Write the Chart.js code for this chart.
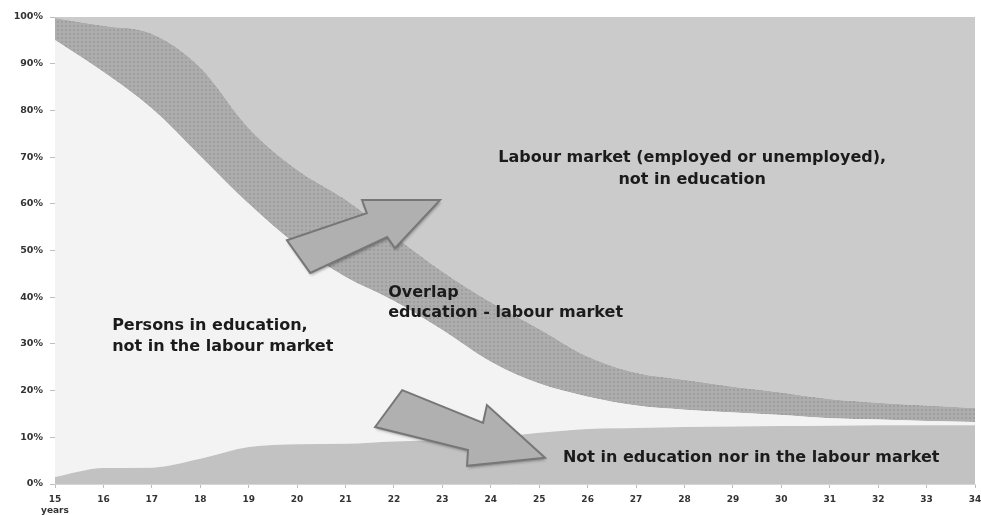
<!DOCTYPE html>
<html>
<head>
<meta charset="utf-8">
<script src="https://cdn.jsdelivr.net/npm/chart.js@4.4.1/dist/chart.umd.min.js"></script>
<style>
  html, body { margin: 0; padding: 0; background: #ffffff; }
  #wrap { width: 981px; height: 515px; }
</style>
</head>
<body>
<div id="wrap"><canvas id="eduChart" width="981" height="515"></canvas></div>
<script>
// ages 15..34, share of each group in percent
const ages = [15, 16, 17, 18, 19, 20, 21, 22, 23, 24, 25, 26, 27, 28, 29, 30, 31, 32, 33, 34];
const notEduNotLabour = [1.5, 3.4, 3.5, 5.4, 7.9, 8.5, 8.6, 9.1, 9.4, 10.0, 11.0, 11.8, 12.0, 12.2, 12.3, 12.4, 12.5, 12.6, 12.6, 12.6];
const eduOnly        = [93.6, 84.8, 76.9, 64.8, 52.1, 42.6, 35.7, 30.1, 23.6, 16.2, 10.5, 6.9, 4.8, 3.7, 3.0, 2.4, 1.6, 1.2, 0.9, 0.7];
const overlap        = [4.7, 9.9, 16.0, 19.0, 16.2, 16.2, 16.6, 13.9, 12.5, 12.7, 11.7, 8.6, 7.0, 6.4, 5.5, 4.8, 4.1, 3.6, 3.3, 3.0];
const labourOnly     = [0.2, 1.9, 3.6, 10.8, 23.8, 32.7, 39.1, 46.9, 54.5, 61.1, 66.8, 72.7, 76.2, 77.7, 79.2, 80.4, 81.8, 82.6, 83.2, 83.7];
const yTicks = [0, 10, 20, 30, 40, 50, 60, 70, 80, 90, 100];

// text labels inside the chart, placed in axis units (category index, percent)
const notes = [
  { lines: ['Labour market (employed or unemployed),', 'not in education'], i: 13.16, p: [69.8, 65.1], align: 'center' },
  { lines: ['Overlap', 'education - labour market'], i: 6.88, p: [40.9, 36.6], align: 'left' },
  { lines: ['Persons in education,', 'not in the labour market'], i: 1.18, p: [33.8, 29.3], align: 'left' },
  { lines: ['Not in education nor in the labour market'], i: 10.49, p: [5.6], align: 'left' }
];

// block arrows, outline points in axis units
const arrows = [
  [[4.79, 52.2], [6.44, 58.0], [6.34, 60.8], [7.95, 60.8], [7.02, 50.5], [6.86, 52.9], [5.27, 45.2]],
  [[7.17, 20.1], [8.84, 13.1], [8.92, 16.9], [10.12, 5.6], [8.51, 3.9], [8.53, 7.3], [6.61, 12.2]]
];

function dotPattern() {
  const c = document.createElement('canvas');
  c.width = 4; c.height = 4;
  const g = c.getContext('2d');
  g.fillStyle = '#adadad';
  g.fillRect(0, 0, 4, 4);
  g.fillStyle = '#9f9f9f';
  g.fillRect(1, 1, 2, 2);
  return g.createPattern(c, 'repeat');
}

const overlayPlugin = {
  id: 'overlay',
  afterDatasetsDraw(chart) {
    const ctx = chart.ctx;
    const x = chart.scales.x, y = chart.scales.y;

    arrows.forEach(pts => {
      ctx.save();
      ctx.beginPath();
      pts.forEach((pt, k) => {
        const px = x.getPixelForValue(pt[0]), py = y.getPixelForValue(pt[1]);
        if (k === 0) ctx.moveTo(px, py); else ctx.lineTo(px, py);
      });
      ctx.closePath();
      ctx.shadowColor = 'rgba(0,0,0,0.35)';
      ctx.shadowBlur = 3;
      ctx.shadowOffsetX = 1;
      ctx.shadowOffsetY = 2;
      ctx.fillStyle = '#b0b0b0';
      ctx.fill();
      ctx.shadowColor = 'transparent';
      ctx.lineWidth = 2;
      ctx.strokeStyle = '#777777';
      ctx.stroke();
      ctx.restore();
    });

    ctx.save();
    ctx.fillStyle = '#1b1b1b';
    ctx.font = 'bold 16px "DejaVu Sans"';
    ctx.textBaseline = 'middle';
    notes.forEach(n => {
      ctx.textAlign = n.align;
      n.lines.forEach((t, k) => {
        ctx.fillText(t, x.getPixelForValue(n.i), y.getPixelForValue(n.p[k]));
      });
    });
    ctx.restore();
  }
};

const ctx = document.getElementById('eduChart').getContext('2d');

new Chart(ctx, {
  type: 'line',
  data: {
    labels: ages,
    datasets: [{
      label: 'Not in education nor in the labour market',
      data: notEduNotLabour,
      backgroundColor: '#c2c2c2',
      fill: 'origin'
    }, {
      label: 'Persons in education, not in the labour market',
      data: eduOnly,
      backgroundColor: '#f3f3f3',
      fill: '-1'
    }, {
      label: 'Overlap education - labour market',
      data: overlap,
      backgroundColor: dotPattern(),
      fill: '-1'
    }, {
      label: 'Labour market (employed or unemployed), not in education',
      data: labourOnly,
      backgroundColor: '#cbcbcb',
      borderColor: '#dedede',
      fill: '-1'
    }]
  },
  options: {
    responsive: false,
    animation: false,
    layout: { padding: { top: 17, right: 6, left: 0, bottom: 0 } },
    elements: {
      point: { radius: 0 },
      line: { borderWidth: 0, cubicInterpolationMode: 'monotone' }
    },
    plugins: {
      legend: { display: false },
      tooltip: { enabled: false }
    },
    scales: {
      x: {
        offset: false,
        grid: { drawOnChartArea: false, tickLength: 4, color: '#bdbdbd' },
        border: { color: '#d6d6d6' },
        ticks: {
          autoSkip: false,
          maxRotation: 0,
          padding: 6,
          color: '#333333',
          font: { family: 'DejaVu Sans', weight: 'bold', size: 9 },
          callback: (v, i) => i === 0 ? [String(ages[i]), 'years'] : String(ages[i])
        },
        afterFit: s => {
          s.height = 31;
          s.paddingLeft = 0;
          s.paddingRight = 0;
        }
      },
      y: {
        stacked: true,
        min: 0,
        max: 100,
        afterBuildTicks: s => { s.ticks = yTicks.map(v => ({ value: v })); },
        grid: { drawOnChartArea: false, tickLength: 5, color: '#bdbdbd' },
        border: { color: '#d6d6d6' },
        ticks: {
          padding: 7,
          color: '#333333',
          font: { family: 'DejaVu Sans', weight: 'bold', size: 9.5 },
          callback: v => v + '%'
        },
        afterFit: s => { s.width = 55; }
      }
    }
  },
  plugins: [overlayPlugin]
});
</script>
</body>
</html>
